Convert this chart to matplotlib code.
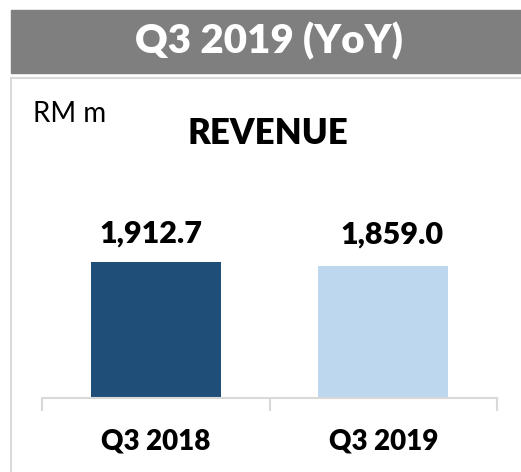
import matplotlib
matplotlib.use('Agg')
import matplotlib.pyplot as plt
from matplotlib.patches import Rectangle

# chart data
categories = ['Q3 2018', 'Q3 2019']
revenue = [1912.7, 1859.0]
value_labels = ['1,912.7', '1,859.0']
bar_colors = ['#1f4e79', '#bdd7ee']

W, H = 521, 472
plt.rcParams['font.family'] = ['Lato', 'DejaVu Sans']
BOLD = 'heavy'


def fx(px):
    return px / W


def fy(py):
    # pixel rows are counted from the top
    return 1 - py / H


fig = plt.figure(figsize=(W / 100, H / 100), dpi=100)

# grey banner and the light frame under it
fig.patches.append(Rectangle((fx(11), fy(73)), fx(530) - fx(11), fy(10) - fy(73),
                             transform=fig.transFigure, color='#7f7f7f', zorder=0))
fig.patches.append(Rectangle((fx(11), fy(490)), fx(540) - fx(11), fy(78) - fy(490),
                             transform=fig.transFigure, facecolor='none',
                             edgecolor='#d9d9d9', linewidth=1.5, zorder=0))
fig.text(fx(269), fy(53), 'Q3 2019 (YoY)', color='white', fontsize=29,
         fontweight=BOLD, ha='center', va='baseline')
fig.text(fx(33), fy(122), 'RM m', fontsize=20, ha='left', va='baseline')
fig.text(fx(268), fy(144), 'REVENUE', fontsize=25, fontweight=BOLD,
         ha='center', va='baseline')

# plot area: axis line at y=398px, spanning 42..497px
ax_top = 160
ax = fig.add_axes([fx(42), fy(398), fx(497) - fx(42), fy(ax_top) - fy(398)])
x = list(range(len(categories)))
ax.bar(x, revenue, width=0.57, color=bar_colors)
ax.set_xlim(-0.5, len(categories) - 0.5)
ax.set_ylim(0, revenue[0] * (398 - ax_top) / 136)

offsets = [(-5, 19), (9, 22)]
for xi, v, lab, off in zip(x, revenue, value_labels, offsets):
    ax.annotate(lab, (xi, v), xytext=(off[0] * 0.72, off[1] * 0.72),
                textcoords='offset points', ha='center', va='baseline',
                fontsize=22, fontweight=BOLD)

for s in ['left', 'right', 'top']:
    ax.spines[s].set_visible(False)
ax.spines['bottom'].set_color('#d9d9d9')
ax.spines['bottom'].set_linewidth(1.5)
ax.set_yticks([])
ax.set_xticks(x)
ax.set_xticklabels(categories, fontsize=20, fontweight=BOLD)
ax.set_xticks([-0.5, 0.5, 1.5], minor=True)
ax.tick_params(axis='x', which='major', length=0, pad=22)
ax.tick_params(axis='x', which='minor', length=9, width=1.5, color='#d9d9d9')
ax.patch.set_visible(False)

fig.savefig('out.png', dpi=100)
